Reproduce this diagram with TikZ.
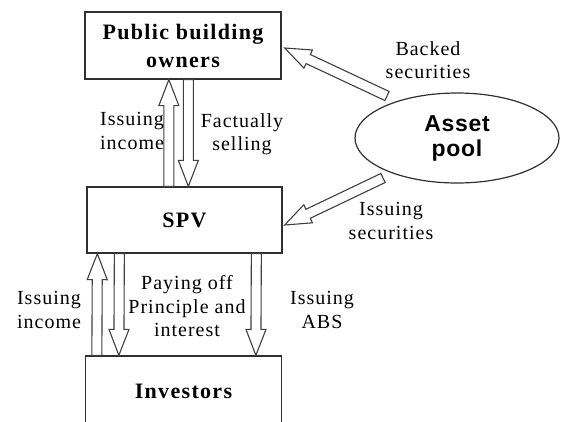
\documentclass[tikz,border=0pt]{standalone}
\usepackage{fontspec}
\setmainfont{Liberation Serif}
\newfontfamily\labfont{Liberation Serif}[LetterSpace=5]
\newfontfamily\headfont{Liberation Serif}[LetterSpace=6]
\newfontfamily\poolfont{Liberation Sans}[LetterSpace=3]
\usetikzlibrary{calc,shapes.geometric}
\definecolor{boxgray}{HTML}{303030}
\definecolor{arrgray}{HTML}{404040}
\newcommand\blockarr[2]{%
  \coordinate (ba-h) at ($(#2)!26pt!(#1)$);
  \draw[barrow] ($(#1)!5pt!90:(#2)$) -- ($(ba-h)!5pt!90:(#2)$) -- ($(ba-h)!10pt!90:(#2)$) -- (#2)
     -- ($(ba-h)!10pt!-90:(#2)$) -- ($(ba-h)!5pt!-90:(#2)$) -- ($(#1)!5pt!-90:(#2)$) -- cycle;
}
\begin{document}
\begin{tikzpicture}[x=1pt,y=-1pt,
  box/.style={draw=boxgray, line width=1.3pt, minimum width=196pt, minimum height=67pt,
    inner sep=0pt, font=\headfont\bfseries\fontsize{22}{28}\selectfont, align=center},
  lab/.style={font=\labfont\fontsize{20}{23.5}\selectfont, align=center, inner sep=0pt},
  barrow/.style={draw=arrgray, line width=1.1pt, fill=white, line join=miter}]
\useasboundingbox (0,0) rectangle (561,421);
\fill[white] (0,0) rectangle (561,421);
\begin{scope}
\clip (0,0) rectangle (561,421);
\node[box] (pbo) at (183,45.5) {Public building\\owners};
\node[box, minimum width=195pt, minimum height=66pt] (spv) at (184.5,220) {SPV};
\node[box, minimum height=70pt] (inv) at (183.5,391) {Investors};
\node[ellipse, draw=boxgray, line width=1.2pt, minimum width=204pt, minimum height=90pt,
  inner sep=0pt, font=\poolfont\bfseries\fontsize{23}{25}\selectfont, align=center]
  (pool) at (457,138) {Asset\\pool};

\coordinate (a1t) at ($(pool.center)+(-70,-42)$);
\coordinate (a1h) at ($(pbo.east)+(3,2.5)$);
\coordinate (a2t) at ($(pool.center)+(-74,40)$);
\coordinate (a2h) at ($(spv.east)+(2,5)$);
\coordinate (u1t) at ($(spv.north west)+(82.5,0)$);
\coordinate (u1h) at ($(pbo.south west)+(84.5,0)$);
\coordinate (d1t) at ($(pbo.south west)+(104,0)$);
\coordinate (d1h) at ($(spv.north west)+(102,0)$);
\coordinate (u2t) at ($(inv.north west)+(12,0)$);
\coordinate (u2h) at ($(spv.south west)+(11,0)$);
\coordinate (d2t) at ($(spv.south west)+(33,0)$);
\coordinate (d2h) at ($(inv.north west)+(34,0)$);
\coordinate (d3t) at ($(spv.south west)+(170,0)$);
\coordinate (d3h) at ($(inv.north west)+(171,0)$);

\blockarr{a1t}{a1h}
\blockarr{a2t}{a2h}
\blockarr{u1t}{u1h}
\blockarr{d1t}{d1h}
\blockarr{u2t}{u2h}
\blockarr{d2t}{d2h}
\blockarr{d3t}{d3h}

\node[lab] (lbacked) at (428,60) {Backed\\securities};
\node[lab] (lincome1) at (132,131) {Issuing\\income};
\node[lab] (lfact) at (242,134) {Factually\\selling};
\node[lab] (lissec) at (391,221) {Issuing\\securities};
\node[lab] (lpay) at (187,306.5) {Paying off\\Principle and\\interest};
\node[lab] (labs) at (322,310) {Issuing\\ABS};
\node[lab] (lincome2) at (49,310) {Issuing\\income};
\end{scope}
\end{tikzpicture}
\end{document}
